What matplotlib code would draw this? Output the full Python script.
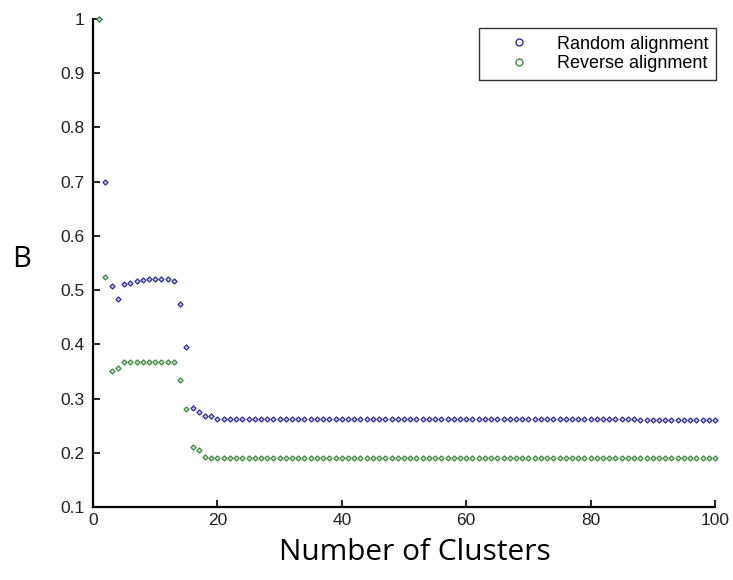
import matplotlib
matplotlib.use("Agg")
import matplotlib.pyplot as plt
from matplotlib.lines import Line2D

# ---- data ----
clusters = list(range(1, 101))

random_alignment = [
    1.000, 0.700, 0.508, 0.483, 0.512, 0.514, 0.517, 0.518, 0.520, 0.520,
    0.520, 0.520, 0.517, 0.475, 0.395, 0.282, 0.276, 0.267, 0.267, 0.263,
    0.262, 0.262, 0.262, 0.262, 0.262, 0.262, 0.262, 0.262, 0.262, 0.262,
    0.262, 0.262, 0.262, 0.262, 0.262, 0.262, 0.262, 0.262, 0.262, 0.262,
    0.262, 0.262, 0.262, 0.262, 0.262, 0.262, 0.262, 0.262, 0.262, 0.262,
    0.262, 0.262, 0.262, 0.262, 0.262, 0.262, 0.262, 0.262, 0.262, 0.262,
    0.262, 0.262, 0.262, 0.262, 0.262, 0.262, 0.262, 0.262, 0.262, 0.262,
    0.262, 0.262, 0.262, 0.262, 0.262, 0.262, 0.262, 0.262, 0.262, 0.262,
    0.262, 0.262, 0.262, 0.262, 0.262, 0.262, 0.262, 0.260, 0.260, 0.260,
    0.260, 0.260, 0.260, 0.260, 0.260, 0.260, 0.260, 0.260, 0.260, 0.260,
]

reverse_alignment = [
    1.000, 0.524, 0.351, 0.357, 0.368, 0.368, 0.368, 0.368, 0.368, 0.368,
    0.368, 0.368, 0.368, 0.335, 0.280, 0.211, 0.206, 0.192, 0.191, 0.191,
    0.191, 0.191, 0.191, 0.191, 0.191, 0.191, 0.191, 0.191, 0.191, 0.191,
    0.191, 0.191, 0.191, 0.191, 0.191, 0.191, 0.191, 0.191, 0.191, 0.191,
    0.191, 0.191, 0.191, 0.191, 0.191, 0.191, 0.191, 0.191, 0.191, 0.191,
    0.191, 0.191, 0.191, 0.191, 0.191, 0.191, 0.191, 0.191, 0.191, 0.191,
    0.191, 0.191, 0.191, 0.191, 0.191, 0.191, 0.191, 0.191, 0.191, 0.191,
    0.191, 0.191, 0.191, 0.191, 0.191, 0.191, 0.191, 0.191, 0.191, 0.191,
    0.191, 0.191, 0.191, 0.191, 0.191, 0.191, 0.191, 0.191, 0.191, 0.191,
    0.191, 0.191, 0.191, 0.191, 0.191, 0.191, 0.191, 0.191, 0.191, 0.191,
]

series_names = ["Random alignment", "Reverse alignment"]
x_ticks = [0, 20, 40, 60, 80, 100]
x_ticklabels = ["0", "20", "40", "60", "80", "100"]
y_ticks = [0.1, 0.2, 0.3, 0.4, 0.5, 0.6, 0.7, 0.8, 0.9, 1.0]
y_ticklabels = ["0.1", "0.2", "0.3", "0.4", "0.5", "0.6", "0.7", "0.8", "0.9", "1"]
x_title = "Number of Clusters"
y_title = "B"

# ---- style ----
blue = "#30308f"
green = "#3f8a45"
tick_font = "Liberation Sans"
label_font = "Open Sans"

W, H = 733, 580
fig = plt.figure(figsize=(W / 100, H / 100), dpi=100)
ax = fig.add_axes([93 / W, 1 - 507 / H, (715 - 93) / W, (507 - 19) / H])

ax.plot(clusters, random_alignment, linestyle="none", marker="D", ms=2.6,
        mfc="#c8c8e6", mec=blue, mew=0.9, clip_on=False)
ax.plot(clusters, reverse_alignment, linestyle="none", marker="D", ms=2.6,
        mfc="#cfe3cf", mec=green, mew=0.9, clip_on=False)

ax.set_xlim(0, 100)
ax.set_ylim(0.1, 1.0)
ax.set_xticks(x_ticks)
ax.set_xticklabels(x_ticklabels, fontfamily=tick_font, fontsize=12.5, color="#222222")
ax.set_yticks(y_ticks)
ax.set_yticklabels(y_ticklabels, fontfamily=tick_font, fontsize=12.5, color="#222222")
ax.tick_params(axis="both", direction="in", length=5, width=1.2, color="black")
ax.tick_params(axis="y", pad=6)
ax.tick_params(axis="x", pad=4)

for s in ["top", "right"]:
    ax.spines[s].set_visible(False)
for s in ["left", "bottom"]:
    ax.spines[s].set_linewidth(1.6)
    ax.spines[s].set_color("black")

fig.text(415 / W, 1 - 553 / H, x_title, fontfamily=label_font, fontsize=21.5,
         ha="center", va="center", color="black")
fig.text(22 / W, 1 - 259 / H, y_title, fontfamily=label_font, fontsize=21,
         ha="center", va="center", color="black")

handles = [
    Line2D([], [], linestyle="none", marker="o", ms=5, mfc="none", mec=blue, mew=1.0),
    Line2D([], [], linestyle="none", marker="o", ms=5, mfc="none", mec=green, mew=1.0),
]
leg = ax.legend(handles, series_names, loc="upper right",
                bbox_to_anchor=(716 / W, 1 - 28 / H), bbox_transform=fig.transFigure,
                frameon=True, fancybox=False, shadow=False, borderpad=0.42,
                handletextpad=0.3, labelspacing=0.15, handlelength=3.6,
                borderaxespad=0.0,
                prop={"family": tick_font, "size": 13})
leg.get_frame().set_edgecolor("black")
leg.get_frame().set_linewidth(1.0)

fig.savefig("out.png", dpi=100)
